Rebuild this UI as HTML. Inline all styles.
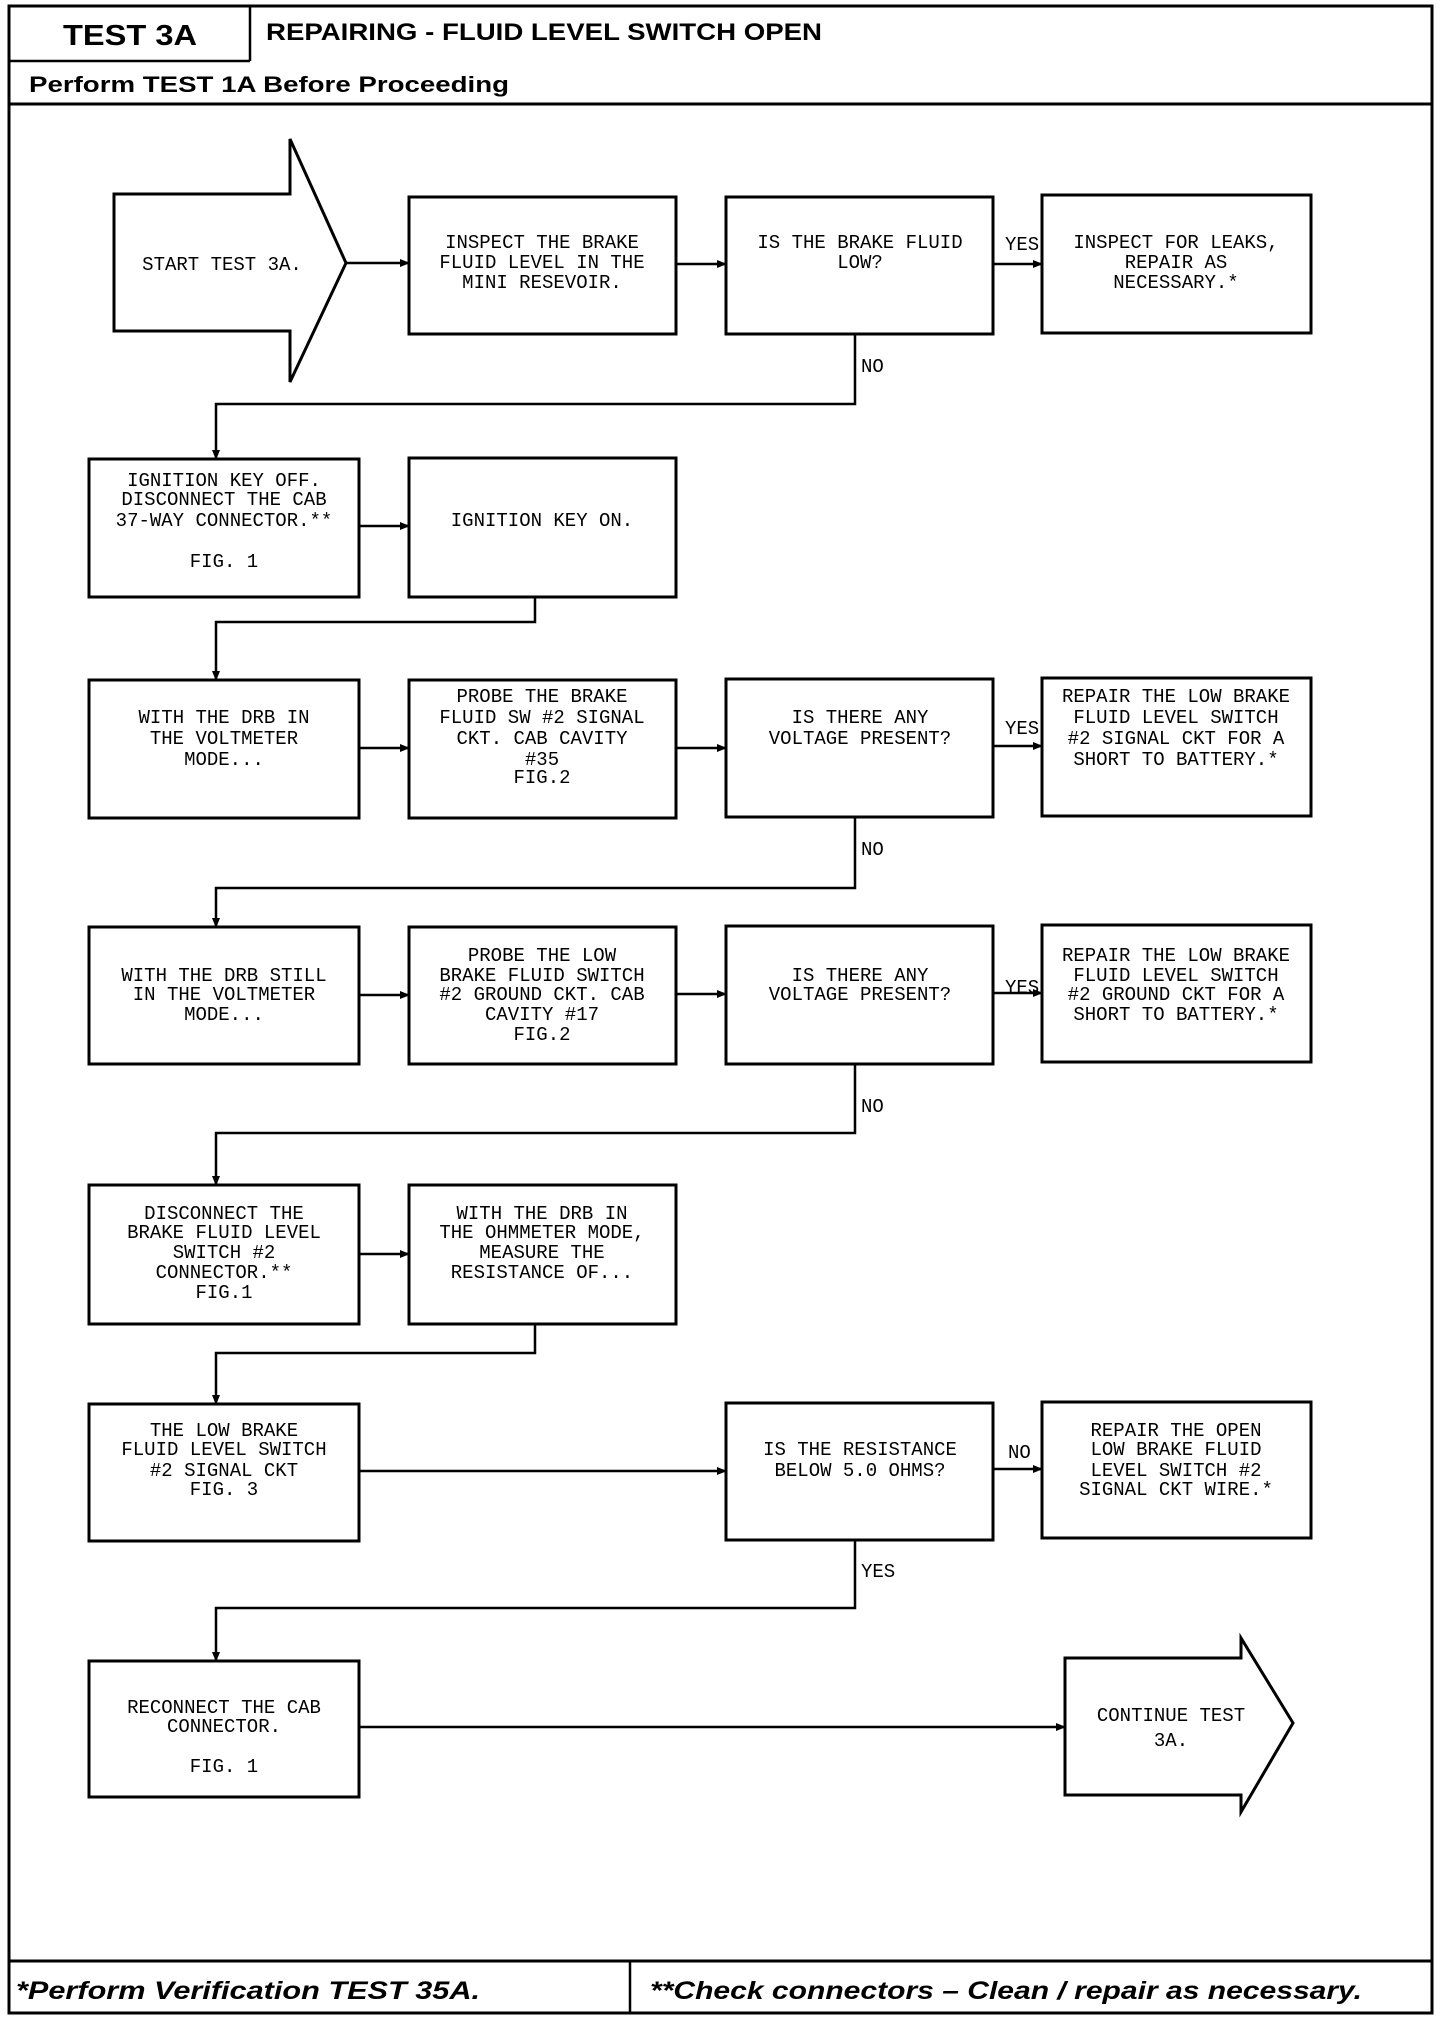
<!DOCTYPE html>
<html><head><meta charset="utf-8"><style>
html,body{margin:0;padding:0;background:#fff;}
svg{display:block;}
.t{font-family:"Liberation Mono",monospace;font-size:19px;fill:#000;text-anchor:middle;}
.l{font-family:"Liberation Mono",monospace;font-size:19px;fill:#000;}
.h{font-family:"Liberation Sans",sans-serif;font-weight:bold;fill:#000;}
.hi{font-family:"Liberation Sans",sans-serif;font-weight:bold;font-style:italic;fill:#000;}
</style></head><body>
<svg width="1440" height="2020" viewBox="0 0 1440 2020" xmlns="http://www.w3.org/2000/svg">
<defs><marker id="a" markerWidth="10" markerHeight="8" refX="9" refY="4" orient="auto" markerUnits="userSpaceOnUse"><path d="M0,0 L10,4 L0,8 z" fill="#000"/></marker></defs>
<!-- frame -->
<rect x="9" y="6" width="1423" height="2007" fill="none" stroke="#000" stroke-width="3"/>
<line x1="9" y1="61" x2="250" y2="61" stroke="#000" stroke-width="2.5"/>
<line x1="250" y1="6" x2="250" y2="61" stroke="#000" stroke-width="2.5"/>
<line x1="9" y1="104" x2="1432" y2="104" stroke="#000" stroke-width="3"/>
<line x1="9" y1="1961" x2="1432" y2="1961" stroke="#000" stroke-width="3"/>
<line x1="630" y1="1961" x2="630" y2="2013" stroke="#000" stroke-width="2.5"/>
<text class="h" x="63" y="45" font-size="29" textLength="134" lengthAdjust="spacingAndGlyphs">TEST 3A</text>
<text class="h" x="266" y="40" font-size="24" textLength="556" lengthAdjust="spacingAndGlyphs">REPAIRING - FLUID LEVEL SWITCH OPEN</text>
<text class="h" x="29" y="92" font-size="22" textLength="480" lengthAdjust="spacingAndGlyphs">Perform TEST 1A Before Proceeding</text>
<text class="hi" x="16" y="1999" font-size="25" textLength="464" lengthAdjust="spacingAndGlyphs">*Perform Verification TEST 35A.</text>
<text class="hi" x="650" y="1999" font-size="25" textLength="712" lengthAdjust="spacingAndGlyphs">**Check connectors – Clean / repair as necessary.</text>

<g fill="none" stroke="#000" stroke-width="3">
<!-- start arrow -->
<path d="M114,194 L290,194 L290,139 L346,263 L290,382 L290,331 L114,331 Z" fill="#fff"/>
<!-- continue arrow -->
<path d="M1065,1658 L1241,1658 L1241,1638 L1293,1723 L1241,1812 L1241,1795 L1065,1795 Z" fill="#fff"/>
<!-- row1 -->
<rect x="409" y="197" width="267" height="137"/>
<rect x="726" y="197" width="267" height="137"/>
<rect x="1042" y="195" width="269" height="138"/>
<!-- row2 -->
<rect x="89" y="459" width="270" height="138"/>
<rect x="409" y="458" width="267" height="139"/>
<!-- row3 -->
<rect x="89" y="680" width="270" height="138"/>
<rect x="409" y="680" width="267" height="138"/>
<rect x="726" y="679" width="267" height="138"/>
<rect x="1042" y="678" width="269" height="138"/>
<!-- row4 -->
<rect x="89" y="927" width="270" height="137"/>
<rect x="409" y="927" width="267" height="137"/>
<rect x="726" y="926" width="267" height="138"/>
<rect x="1042" y="925" width="269" height="137"/>
<!-- row5 -->
<rect x="89" y="1185" width="270" height="139"/>
<rect x="409" y="1185" width="267" height="139"/>
<!-- row6 -->
<rect x="89" y="1404" width="270" height="137"/>
<rect x="726" y="1403" width="267" height="137"/>
<rect x="1042" y="1402" width="269" height="136"/>
<!-- row7 -->
<rect x="89" y="1661" width="270" height="136"/>
</g>

<g fill="none" stroke="#000" stroke-width="2.5" marker-end="url(#a)">
<line x1="346" y1="263" x2="409" y2="263"/>
<line x1="676" y1="264" x2="726" y2="264"/>
<line x1="993" y1="264" x2="1042" y2="264"/>
<polyline points="855,334 855,404 216,404 216,459"/>
<line x1="359" y1="526" x2="409" y2="526"/>
<polyline points="535,597 535,622 216,622 216,680"/>
<line x1="359" y1="748" x2="409" y2="748"/>
<line x1="676" y1="748" x2="726" y2="748"/>
<line x1="993" y1="746" x2="1042" y2="746"/>
<polyline points="855,817 855,888 216,888 216,927"/>
<line x1="359" y1="995" x2="409" y2="995"/>
<line x1="676" y1="994" x2="726" y2="994"/>
<line x1="993" y1="993" x2="1042" y2="993"/>
<polyline points="855,1064 855,1133 216,1133 216,1185"/>
<line x1="359" y1="1254" x2="409" y2="1254"/>
<polyline points="535,1324 535,1353 216,1353 216,1404"/>
<line x1="359" y1="1471" x2="726" y2="1471"/>
<line x1="993" y1="1469" x2="1042" y2="1469"/>
<polyline points="855,1540 855,1608 216,1608 216,1661"/>
<line x1="359" y1="1727" x2="1065" y2="1727"/>
</g>

<!-- labels -->
<text class="l" x="1005" y="250">YES</text>
<text class="l" x="861" y="372">NO</text>
<text class="l" x="1005" y="734">YES</text>
<text class="l" x="861" y="855">NO</text>
<text class="l" x="1005" y="993">YES</text>
<text class="l" x="861" y="1112">NO</text>
<text class="l" x="1008" y="1458">NO</text>
<text class="l" x="861" y="1577">YES</text>

<!-- box texts -->
<text class="t" x="222" y="270">START TEST 3A.</text>
<text class="t" x="542" y="248">INSPECT THE BRAKE</text>
<text class="t" x="542" y="268">FLUID LEVEL IN THE</text>
<text class="t" x="542" y="288">MINI RESEVOIR.</text>
<text class="t" x="860" y="248">IS THE BRAKE FLUID</text>
<text class="t" x="860" y="268">LOW?</text>
<text class="t" x="1176" y="248">INSPECT FOR LEAKS,</text>
<text class="t" x="1176" y="268">REPAIR AS</text>
<text class="t" x="1176" y="288">NECESSARY.*</text>

<text class="t" x="224" y="486">IGNITION KEY OFF.</text>
<text class="t" x="224" y="505">DISCONNECT THE CAB</text>
<text class="t" x="224" y="526">37-WAY CONNECTOR.**</text>
<text class="t" x="224" y="567">FIG. 1</text>
<text class="t" x="542" y="526">IGNITION KEY ON.</text>

<text class="t" x="224" y="723">WITH THE DRB IN</text>
<text class="t" x="224" y="744">THE VOLTMETER</text>
<text class="t" x="224" y="765">MODE...</text>
<text class="t" x="542" y="702">PROBE THE BRAKE</text>
<text class="t" x="542" y="723">FLUID SW #2 SIGNAL</text>
<text class="t" x="542" y="744">CKT. CAB CAVITY</text>
<text class="t" x="542" y="765">#35</text>
<text class="t" x="542" y="783">FIG.2</text>
<text class="t" x="860" y="723">IS THERE ANY</text>
<text class="t" x="860" y="744">VOLTAGE PRESENT?</text>
<text class="t" x="1176" y="702">REPAIR THE LOW BRAKE</text>
<text class="t" x="1176" y="723">FLUID LEVEL SWITCH</text>
<text class="t" x="1176" y="744">#2 SIGNAL CKT FOR A</text>
<text class="t" x="1176" y="765">SHORT TO BATTERY.*</text>

<text class="t" x="224" y="981">WITH THE DRB STILL</text>
<text class="t" x="224" y="1000">IN THE VOLTMETER</text>
<text class="t" x="224" y="1020">MODE...</text>
<text class="t" x="542" y="961">PROBE THE LOW</text>
<text class="t" x="542" y="981">BRAKE FLUID SWITCH</text>
<text class="t" x="542" y="1000">#2 GROUND CKT. CAB</text>
<text class="t" x="542" y="1020">CAVITY #17</text>
<text class="t" x="542" y="1040">FIG.2</text>
<text class="t" x="860" y="981">IS THERE ANY</text>
<text class="t" x="860" y="1000">VOLTAGE PRESENT?</text>
<text class="t" x="1176" y="961">REPAIR THE LOW BRAKE</text>
<text class="t" x="1176" y="981">FLUID LEVEL SWITCH</text>
<text class="t" x="1176" y="1000">#2 GROUND CKT FOR A</text>
<text class="t" x="1176" y="1020">SHORT TO BATTERY.*</text>

<text class="t" x="224" y="1219">DISCONNECT THE</text>
<text class="t" x="224" y="1238">BRAKE FLUID LEVEL</text>
<text class="t" x="224" y="1258">SWITCH #2</text>
<text class="t" x="224" y="1278">CONNECTOR.**</text>
<text class="t" x="224" y="1298">FIG.1</text>
<text class="t" x="542" y="1219">WITH THE DRB IN</text>
<text class="t" x="542" y="1238">THE OHMMETER MODE,</text>
<text class="t" x="542" y="1258">MEASURE THE</text>
<text class="t" x="542" y="1278">RESISTANCE OF...</text>

<text class="t" x="224" y="1436">THE LOW BRAKE</text>
<text class="t" x="224" y="1455">FLUID LEVEL SWITCH</text>
<text class="t" x="224" y="1476">#2 SIGNAL CKT</text>
<text class="t" x="224" y="1495">FIG. 3</text>
<text class="t" x="860" y="1455">IS THE RESISTANCE</text>
<text class="t" x="860" y="1476">BELOW 5.0 OHMS?</text>
<text class="t" x="1176" y="1436">REPAIR THE OPEN</text>
<text class="t" x="1176" y="1455">LOW BRAKE FLUID</text>
<text class="t" x="1176" y="1476">LEVEL SWITCH #2</text>
<text class="t" x="1176" y="1495">SIGNAL CKT WIRE.*</text>

<text class="t" x="224" y="1713">RECONNECT THE CAB</text>
<text class="t" x="224" y="1732">CONNECTOR.</text>
<text class="t" x="224" y="1772">FIG. 1</text>
<text class="t" x="1171" y="1721">CONTINUE TEST</text>
<text class="t" x="1171" y="1746">3A.</text>
</svg>
</body></html>
